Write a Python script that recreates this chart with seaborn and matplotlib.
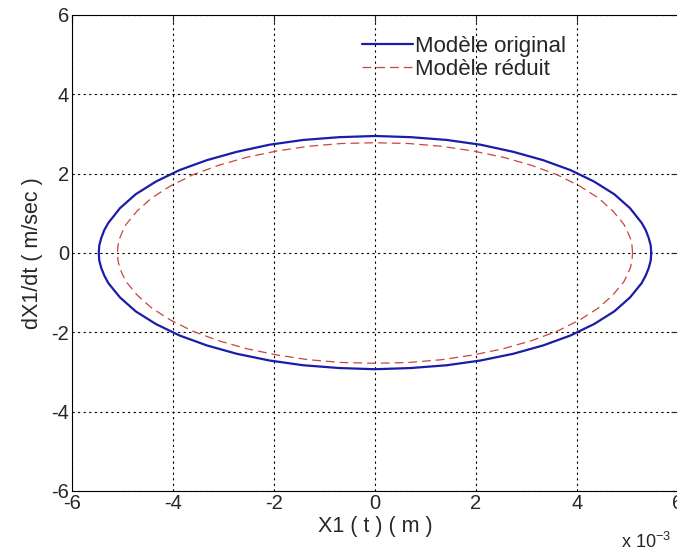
import matplotlib
matplotlib.use("Agg")
import matplotlib.pyplot as plt
import pandas as pd
import seaborn as sns

# phase portrait, x in units of 1e-3 m
# upper half, right to left
orig_x_upper = [5.47, 5.46, 5.42, 5.36, 5.28, 5.05, 4.74, 4.34, 3.87, 3.33, 2.74, 2.09, 1.42, 0.71, 0.0,
                -0.71, -1.42, -2.09, -2.74, -3.33, -3.87, -4.34, -4.74, -5.05, -5.28, -5.36, -5.42, -5.46, -5.47]
orig_y_upper = [0.0, 0.19, 0.38, 0.58, 0.76, 1.13, 1.48, 1.80, 2.09, 2.34, 2.55, 2.73, 2.85, 2.92, 2.95,
                2.92, 2.85, 2.73, 2.55, 2.34, 2.09, 1.80, 1.48, 1.13, 0.76, 0.58, 0.38, 0.19, 0.0]
# lower half, left to right
orig_x_lower = [-5.46, -5.42, -5.36, -5.28, -5.05, -4.74, -4.34, -3.87, -3.33, -2.74, -2.09, -1.42, -0.71, 0.0,
                0.71, 1.42, 2.09, 2.74, 3.33, 3.87, 4.34, 4.74, 5.05, 5.28, 5.36, 5.42, 5.46, 5.47]
orig_y_lower = [-0.19, -0.38, -0.57, -0.76, -1.12, -1.47, -1.79, -2.08, -2.33, -2.54, -2.71, -2.83, -2.90, -2.93,
                -2.90, -2.83, -2.71, -2.54, -2.33, -2.08, -1.79, -1.47, -1.12, -0.76, -0.57, -0.38, -0.19, 0.0]

red_x_upper = [5.10, 5.09, 5.06, 5.00, 4.93, 4.71, 4.42, 4.05, 3.61, 3.10, 2.55, 1.95, 1.32, 0.67, 0.0,
               -0.67, -1.32, -1.95, -2.55, -3.10, -3.61, -4.05, -4.42, -4.71, -4.93, -5.00, -5.06, -5.09, -5.10]
red_y_upper = [0.0, 0.18, 0.36, 0.54, 0.72, 1.06, 1.39, 1.69, 1.97, 2.21, 2.41, 2.57, 2.69, 2.76, 2.78,
               2.76, 2.69, 2.57, 2.41, 2.21, 1.97, 1.69, 1.39, 1.06, 0.72, 0.54, 0.36, 0.18, 0.0]
red_x_lower = [-5.09, -5.06, -5.00, -4.93, -4.71, -4.42, -4.05, -3.61, -3.10, -2.55, -1.95, -1.32, -0.67, 0.0,
               0.67, 1.32, 1.95, 2.55, 3.10, 3.61, 4.05, 4.42, 4.71, 4.93, 5.00, 5.06, 5.09, 5.10]
red_y_lower = [-0.18, -0.36, -0.54, -0.72, -1.06, -1.39, -1.69, -1.97, -2.21, -2.41, -2.57, -2.69, -2.76, -2.78,
               -2.76, -2.69, -2.57, -2.41, -2.21, -1.97, -1.69, -1.39, -1.06, -0.72, -0.54, -0.36, -0.18, 0.0]

ticks = [-6, -4, -2, 0, 2, 4, 6]

orig = pd.DataFrame({"x": orig_x_upper + orig_x_lower, "y": orig_y_upper + orig_y_lower})
red = pd.DataFrame({"x": red_x_upper + red_x_lower, "y": red_y_upper + red_y_lower})

sns.set_style("white")
plt.rcParams["font.family"] = ["Liberation Sans", "DejaVu Sans"]

fig = plt.figure(figsize=(6.77, 5.5), dpi=100)
ax = fig.add_axes([72 / 677, 59 / 550, 606 / 677, 476 / 550])

sns.lineplot(data=orig, x="x", y="y", sort=False, estimator=None, ax=ax,
             color="#1c1ca8", lw=1.6, label="Modèle original")
sns.lineplot(data=red, x="x", y="y", sort=False, estimator=None, ax=ax,
             color="#c8463c", lw=0.9, label="Modèle réduit")
ax.lines[1].set_dashes((7, 4))

ax.set_xlim(-6, 6)
ax.set_ylim(-6, 6)
ax.set_xticks(ticks)
ax.set_yticks(ticks)
ax.set_xticklabels([str(t) for t in ticks], fontsize=14.5)
ax.set_yticklabels([str(t) for t in ticks], fontsize=14.5)
ax.tick_params(direction="in", length=5, width=0.8, top=True, right=True, pad=2)
ax.grid(True, color="black", linestyle=(0, (2, 3)), lw=0.8)
for s in ax.spines.values():
    s.set_color("black")
    s.set_linewidth(0.8)

ax.set_xlabel("X1 ( t ) ( m )", fontsize=15.5, labelpad=2)
ax.set_ylabel("dX1/dt ( m/sec )", fontsize=15.5, labelpad=6)
ax.text(548 / 605, -0.107, "x 10$^{\\mathregular{-3}}$", transform=ax.transAxes,
        ha="left", va="center", fontsize=13)

leg = ax.legend(loc="upper left", bbox_to_anchor=(0.464, 0.975), frameon=False,
                fontsize=16, handlelength=2.3, handletextpad=0.1,
                labelspacing=0.1, borderaxespad=0)

fig.savefig("out.png", dpi=100, facecolor="white")
